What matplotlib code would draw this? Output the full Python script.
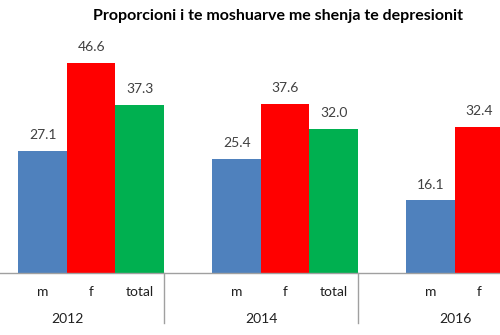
import matplotlib
matplotlib.use("Agg")
import matplotlib.pyplot as plt
import numpy as np

years = ["2012", "2014", "2016"]
sexes = ["m", "f", "total"]
values_m = [27.1, 25.4, 16.1]
values_f = [46.6, 37.6, 32.4]
values_total = [37.3, 32.0, None]  # 2016 total is cut off in the reference
colors = {"m": "#4F81BD", "f": "#FF0000", "total": "#00B050"}
title = "Proporcioni i te moshuarve me shenja te depresionit"

plt.rcParams['font.family'] = ['Lato', 'DejaVu Sans']

W, H = 500, 335
fig = plt.figure(figsize=(W / 100, H / 100), dpi=100)
fig.patch.set_facecolor("white")

unit = 48.5  # px per slot
x0 = -30     # px position of x=0
base = 273   # px from top for baseline
ymax = 50
pxper = 4.506
ax_h = ymax * pxper
ax = fig.add_axes([x0 / W, (H - base) / H, 12 * unit / W, ax_h / H])
ax.set_xlim(0, 12)
ax.set_ylim(0, ymax)
ax.axis("off")

series = {"m": values_m, "f": values_f, "total": values_total}
for g, yr in enumerate(years):
    for k, s in enumerate(sexes):
        v = series[s][g]
        xc = 4 * g + 1.5 + k
        if v is None:
            continue
        ax.bar(xc, v, width=1.0, color=colors[s], linewidth=0)
        ax.annotate(f"{v:.1f}", (xc, v), xytext=(0, 7), textcoords="offset points",
                    ha="center", va="bottom", fontsize=10, color="#404040")
        ax.text(xc, -4.3, s, ha="center", va="center", fontsize=10, color="#202020",
                clip_on=False)
    ax.text(4 * g + 2, -10.2, yr, ha="center", va="center", fontsize=10, color="#202020",
            clip_on=False)

# baseline and group separators
ax.plot([0, 12], [0, 0], color="#A0A0A0", lw=1, clip_on=False)
for sx in [0, 4, 8, 12]:
    ax.plot([sx, sx], [0, -11.1], color="#A0A0A0", lw=1, clip_on=False)

fig.text(278 / W, 1 - 16 / H, title, ha="center", va="center", fontsize=11.5,
         fontweight="bold", color="black")

fig.savefig("out.png", dpi=100, facecolor="white")
